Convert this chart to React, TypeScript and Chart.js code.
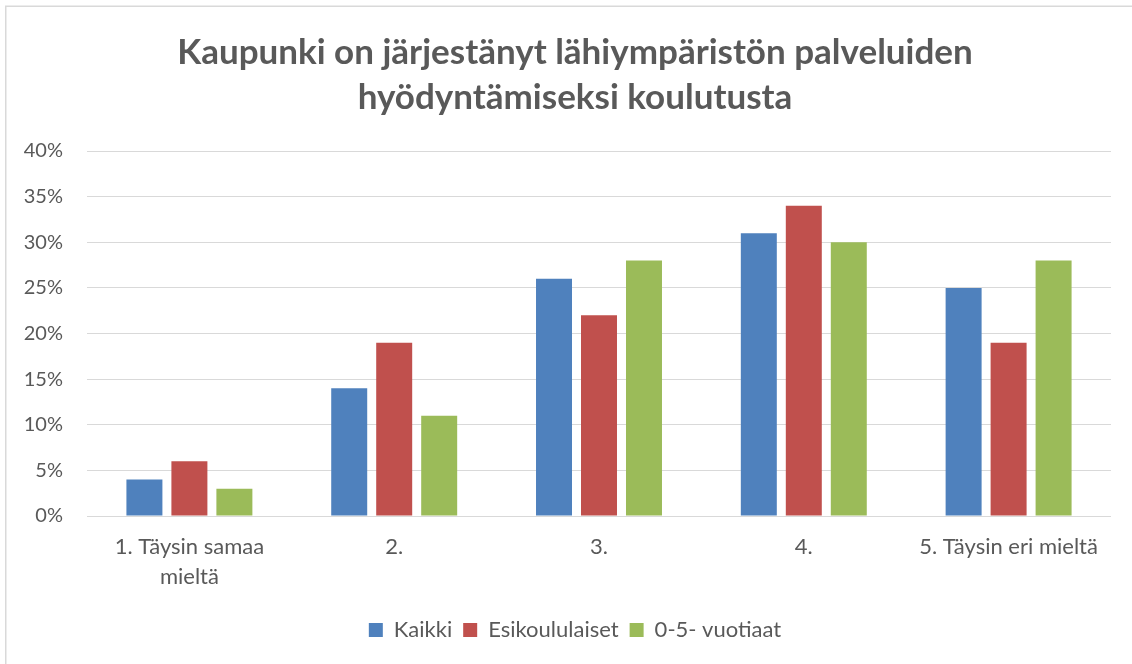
import React, { useEffect, useRef } from "react";
import { Chart, registerables } from "chart.js";

Chart.register(...registerables);

const categories: (string | string[])[] = [
  ["1. Täysin samaa", "mieltä"],
  "2.",
  "3.",
  "4.",
  "5. Täysin eri mieltä",
];
const kaikki = [4, 14, 26, 31, 25];
const esikoululaiset = [6, 19, 22, 34, 19];
const vuotiaat = [3, 11, 28, 30, 28];
const seriesNames = ["Kaikki", "Esikoululaiset", "0-5- vuotiaat"];
const titleLines = [
  "Kaupunki on järjestänyt lähiympäristön palveluiden",
  "hyödyntämiseksi koulutusta",
];

const FONT = "Lato, 'Open Sans', sans-serif";
const TEXT = "#595959";
const EXTRA = 39; // extra canvas width beyond the page on the right

const borderPlugin = {
  id: "outerBorder",
  beforeDraw(chart: any) {
    const ctx = chart.ctx;
    ctx.save();
    ctx.strokeStyle = "#d9d9d9";
    ctx.lineWidth = 1.5;
    ctx.beginPath();
    ctx.moveTo(5.75, chart.height + 5);
    ctx.lineTo(5.75, 6.25);
    ctx.lineTo(chart.width + 5, 6.25);
    ctx.stroke();
    ctx.restore();
  },
};

export default function App() {
  const ref = useRef<HTMLCanvasElement>(null);
  useEffect(() => {
    if (!ref.current) return;
    const chart = new Chart(ref.current, {
      type: "bar",
      data: {
        labels: categories,
        datasets: [
          { label: seriesNames[0], data: kaikki, backgroundColor: "#4F81BD" },
          { label: seriesNames[1], data: esikoululaiset, backgroundColor: "#C0504D" },
          { label: seriesNames[2], data: vuotiaat, backgroundColor: "#9BBB59" },
        ],
      },
      options: {
        animation: false,
        responsive: true,
        maintainAspectRatio: false,
        layout: { padding: { left: 0, right: 21, top: 0, bottom: 13 } },
        datasets: {
          bar: { categoryPercentage: 0.659, barPercentage: 0.8 },
        },
        plugins: {
          title: {
            display: true,
            text: titleLines,
            color: TEXT,
            font: { family: FONT, size: 35, weight: "bold", lineHeight: 45 / 35 },
            padding: { top: 30, bottom: 31 },
          },
          legend: {
            position: "bottom",
            labels: {
              color: TEXT,
              font: { family: FONT, size: 22 },
              boxWidth: 14,
              boxHeight: 14,
              padding: 11,
            },
          },
          tooltip: { enabled: false },
        },
        scales: {
          x: {
            grid: { display: false, drawTicks: false },
            border: { display: false },
            ticks: {
              color: TEXT,
              font: { family: FONT, size: 22, lineHeight: 30 / 22 },
              padding: 16,
              maxRotation: 0,
              autoSkip: false,
            },
          },
          y: {
            min: 0,
            max: 40,
            afterFit(scale: any) {
              scale.width = 87;
            },
            grid: { color: "#d9d9d9", drawTicks: false, lineWidth: 1 },
            border: { display: false },
            ticks: {
              stepSize: 5,
              color: TEXT,
              font: { family: FONT, size: 20 },
              padding: 24,
              callback: (v: any) => v + "%",
            },
          },
          spacer: {
            type: "linear",
            position: "right",
            min: 0,
            max: 40,
            afterFit(scale: any) {
              scale.width = EXTRA;
            },
            grid: { display: false, drawTicks: false },
            border: { display: false },
            ticks: { display: false },
          },
        } as any,
      },
      plugins: [borderPlugin],
    });
    return () => chart.destroy();
  }, []);
  return (
    <div style={{ position: "fixed", left: 0, top: 0, width: 1132, height: 664, overflow: "hidden", background: "#fff" }}>
      <div style={{ position: "absolute", left: 0, top: 0, width: 1132 + EXTRA, height: 664 }}>
        <canvas ref={ref} />
      </div>
    </div>
  );
}
